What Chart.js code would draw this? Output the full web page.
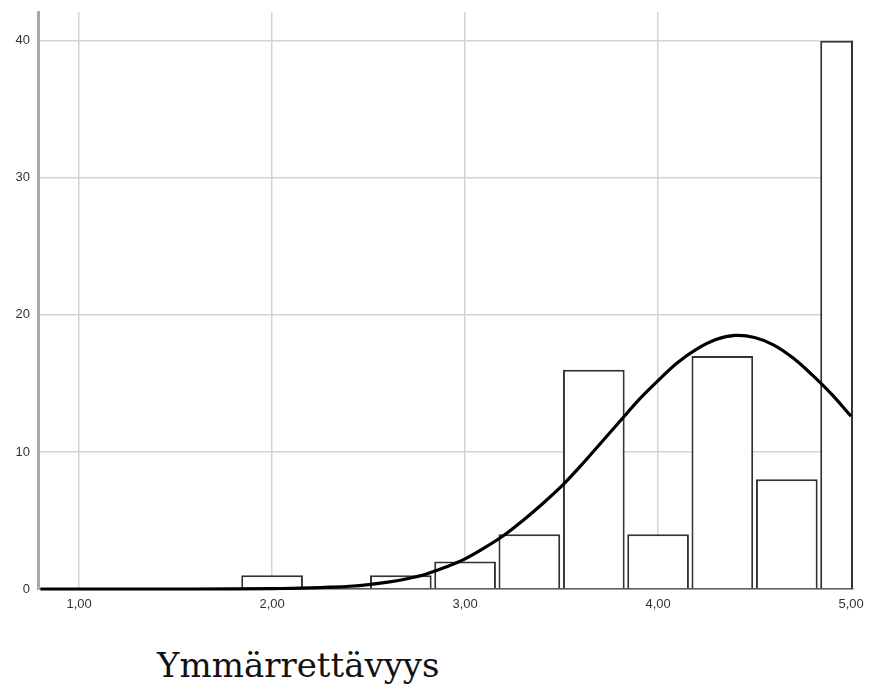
<!DOCTYPE html>
<html lang="fi">
<head>
<meta charset="utf-8">
<title>Ymmärrettävyys</title>
<script src="https://cdn.jsdelivr.net/npm/chart.js@4/dist/chart.umd.min.js"></script>
<style>
    html, body { margin: 0; padding: 0; background: #fff; }
    #wrap { position: relative; width: 871px; height: 690px; }
    #chartBox { position: absolute; left: 0; top: 0; width: 871px; height: 620px; }
    #otsikko {
        position: absolute; left: 157px; top: 645px;
        font-family: "DejaVu Serif", serif; font-size: 34px; line-height: normal; color: #111;
        white-space: nowrap;
    }
</style>
</head>
<body>
<div id="wrap">
    <div id="chartBox"><canvas id="histogrammi"></canvas></div>
    <div id="otsikko">Ymmärrettävyys</div>
</div>
<script>
// Luokkien keskikohdat ja frekvenssit
const luokat = [2.0, 2.667, 3.0, 3.333, 3.667, 4.0, 4.333, 4.667, 5.0];
const frekvenssit = [1, 1, 2, 4, 16, 4, 17, 8, 40];

// Normaalijakaumakäyrä (luettu kuvaajasta)
const kayraX = [0.8, 1.2, 1.6, 2.0, 2.1, 2.2, 2.3, 2.4, 2.5, 2.6, 2.7, 2.8, 2.9, 3.0, 3.1, 3.2, 3.3, 3.4, 3.5,
                3.6, 3.7, 3.8, 3.9, 4.0, 4.1, 4.2, 4.3, 4.4, 4.5, 4.6, 4.7, 4.8, 4.9, 5.0];
const kayraY = [0, 0, 0, 0.03, 0.05, 0.08, 0.13, 0.2, 0.32, 0.5, 0.75, 1.1, 1.6, 2.2, 3.0, 3.9, 5.0, 6.2, 7.5,
                9.0, 10.6, 12.2, 13.8, 15.2, 16.5, 17.5, 18.2, 18.5, 18.35, 17.8, 16.85, 15.6, 14.2, 12.6];

// Akselien jakoviivat
const xTikit = [1, 2, 3, 4, 5];
const yTikit = [0, 10, 20, 30, 40];

const pylvaat = luokat.map((x, i) => ({ x: x, y: frekvenssit[i] }));
const kayra = kayraX.map((x, i) => ({ x: x, y: kayraY[i] }));

const tikkiFontti = { family: "'Liberation Sans', Arial, sans-serif", size: 13 };
const ruudukko = '#d4d4d4';
const reunaVari = '#333';

// Viimeinen pylväs leikkautuu akselin päähän: piirretään sen oikea reuna kaavion reunaan
const leikattuReuna = {
    id: 'leikattuReuna',
    afterDatasetDraw(chart, args) {
        if (args.index !== 1) return;
        const el = args.meta.data[args.meta.data.length - 1];
        const { ctx, chartArea } = chart;
        ctx.save();
        ctx.strokeStyle = reunaVari;
        ctx.lineWidth = 2;
        ctx.beginPath();
        ctx.moveTo(chartArea.right - 1, el.y);
        ctx.lineTo(chartArea.right - 1, el.base);
        ctx.stroke();
        ctx.restore();
    }
};

const ctx = document.getElementById('histogrammi').getContext('2d');
new Chart(ctx, {
    type: 'bar',
    data: {
        datasets: [
            {
                type: 'line',
                data: kayra,
                borderColor: '#000',
                borderWidth: 3.2,
                pointRadius: 0,
                tension: 0.35,
                clip: { left: 0, top: 0, right: 0, bottom: 4 },
                order: 0
            },
            {
                type: 'bar',
                data: pylvaat,
                backgroundColor: '#fff',
                borderColor: reunaVari,
                borderWidth: 2,
                barPercentage: 0.96,
                categoryPercentage: 1,
                order: 1
            }
        ]
    },
    options: {
        responsive: true,
        maintainAspectRatio: false,
        animation: false,
        layout: { padding: { top: 12, right: 18, left: 0, bottom: 0 } },
        plugins: {
            legend: { display: false },
            tooltip: { enabled: false }
        },
        scales: {
            x: {
                type: 'linear',
                min: 0.787,
                max: 5.01,
                offset: false,
                afterBuildTicks: (akseli) => {
                    akseli.ticks = xTikit.map(v => ({ value: v }));
                },
                afterFit: (akseli) => {
                    akseli.height = 31;
                    akseli.paddingLeft = 0;
                    akseli.paddingRight = 0;
                },
                ticks: {
                    color: '#333',
                    font: tikkiFontti,
                    padding: 8,
                    maxRotation: 0,
                    callback: (v) => v.toFixed(2).replace('.', ',')
                },
                grid: {
                    // 5,00-viiva jää pylvään reunan alle
                    color: (c) => (c.tick && c.tick.value === 5 ? 'rgba(0,0,0,0)' : ruudukko),
                    lineWidth: 1.5,
                    drawTicks: false,
                    offset: false
                },
                border: { display: true, color: '#555', width: 1.5 }
            },
            y: {
                min: 0,
                max: 42.1,
                afterBuildTicks: (akseli) => {
                    akseli.ticks = yTikit.map(v => ({ value: v }));
                },
                afterFit: (akseli) => {
                    akseli.width = 38;
                    akseli.paddingTop = 0;
                    akseli.paddingBottom = 0;
                },
                ticks: {
                    color: '#333',
                    font: tikkiFontti,
                    padding: 8
                },
                grid: {
                    color: ruudukko,
                    lineWidth: 1.5,
                    drawTicks: false
                },
                border: { display: true, color: '#aaa', width: 3 }
            }
        }
    },
    plugins: [leikattuReuna]
});
</script>
</body>
</html>
